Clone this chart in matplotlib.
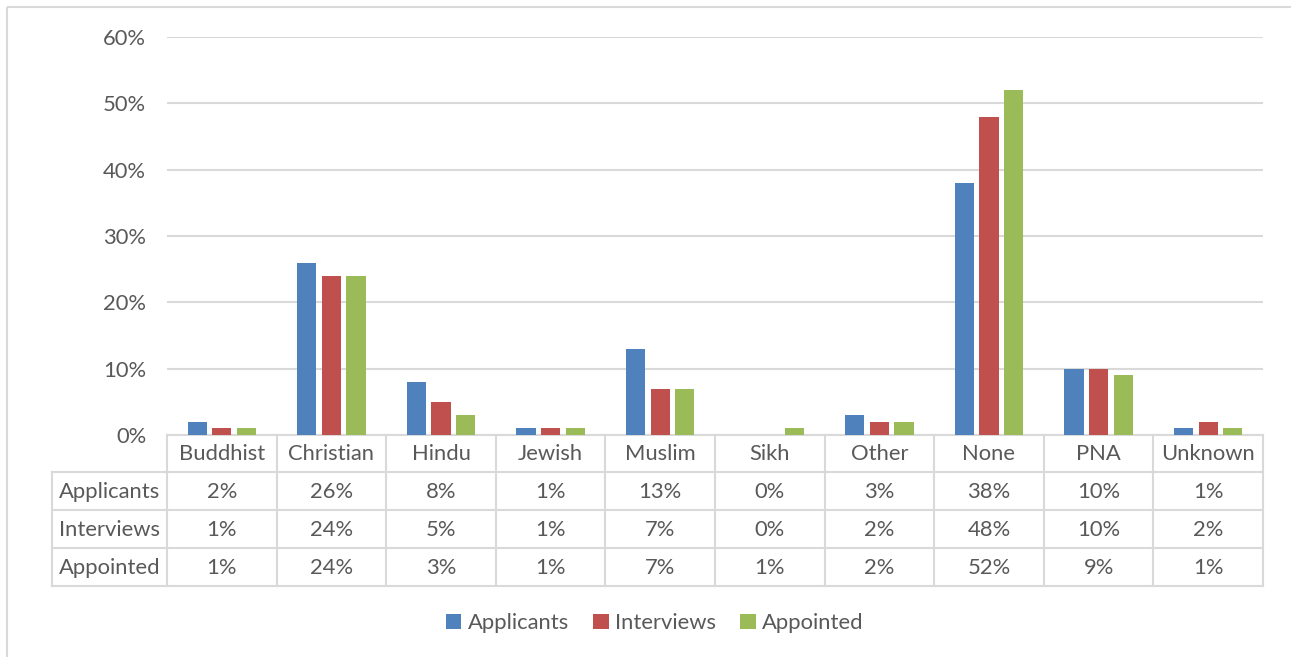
import matplotlib
matplotlib.use("Agg")
import matplotlib.pyplot as plt
from matplotlib.patches import Patch, Rectangle

categories = ["Buddhist", "Christian", "Hindu", "Jewish", "Muslim", "Sikh", "Other", "None", "PNA", "Unknown"]
applicants = [2, 26, 8, 1, 13, 0, 3, 38, 10, 1]
interviews = [1, 24, 5, 1, 7, 0, 2, 48, 10, 2]
appointed = [1, 24, 3, 1, 7, 1, 2, 52, 9, 1]
series_names = ["Applicants", "Interviews", "Appointed"]
series_values = [applicants, interviews, appointed]
colors = ["#4F81BD", "#C0504D", "#9BBB59"]
y_ticks = [0, 10, 20, 30, 40, 50, 60]

W, H = 1291, 657
TXT = "#595959"
GRID = "#D9D9D9"
FONT = ["Lato", "DejaVu Sans"]
plt.rcParams["font.family"] = FONT

fig = plt.figure(figsize=(W / 100, H / 100), dpi=100)

# overlay in pixel coordinates
ov = fig.add_axes([0, 0, 1, 1])
ov.set_xlim(0, W)
ov.set_ylim(H, 0)
ov.axis("off")

# chart border
ov.add_patch(Rectangle((7, 7), W + 20, H + 20, fill=False, edgecolor=GRID, lw=1.5))

fs = 15.8

# plot area
px_l, px_r, px_t, px_b = 167, 1263, 37, 435
ax = fig.add_axes([px_l / W, 1 - px_b / H, (px_r - px_l) / W, (px_b - px_t) / H])
n = len(categories)
ax.set_xlim(-0.5, n - 0.5)
ax.set_ylim(0, 60)
bw = 0.175
offs = [-0.225, 0.0, 0.225]
for vals, c, o, name in zip(series_values, colors, offs, series_names):
    ax.bar([i + o for i in range(n)], vals, width=bw, color=c, label=name, zorder=3)
ax.set_yticks(y_ticks)
ax.set_yticklabels([f"{t}%" for t in y_ticks], color=TXT, fontsize=fs)
ax.tick_params(axis="y", length=0, pad=15)
ax.set_xticks([])
ax.grid(axis="y", color=GRID, lw=1.5, zorder=0)
for s in ax.spines.values():
    s.set_visible(False)
ax.patch.set_alpha(0)

# data table
col_w = (px_r - px_l) / n
row_edges = [435, 472, 510, 548, 586]
lab_l = 52
lw = 1.5
ov.plot([px_l, px_r], [row_edges[0], row_edges[0]], color=GRID, lw=lw)
for y in row_edges[1:]:
    ov.plot([lab_l, px_r], [y, y], color=GRID, lw=lw)
for i in range(n + 1):
    x = px_l + i * col_w
    ov.plot([x, x], [row_edges[0], row_edges[-1]], color=GRID, lw=lw)
ov.plot([lab_l, lab_l], [row_edges[1], row_edges[-1]], color=GRID, lw=lw)

for i, cat in enumerate(categories):
    cx = px_l + (i + 0.5) * col_w
    ov.text(cx, (row_edges[0] + row_edges[1]) / 2 + 1, cat, ha="center", va="center", color=TXT, fontsize=fs)
for r, (name, vals) in enumerate(zip(series_names, series_values)):
    cy = (row_edges[r + 1] + row_edges[r + 2]) / 2 + 1
    ov.text((lab_l + px_l) / 2, cy, name, ha="center", va="center", color=TXT, fontsize=fs)
    for i, v in enumerate(vals):
        cx = px_l + (i + 0.5) * col_w
        ov.text(cx, cy, f"{v}%", ha="center", va="center", color=TXT, fontsize=fs)

# legend
handles = [Patch(facecolor=c, edgecolor="none", label=nm) for c, nm in zip(colors, series_names)]
fig.legend(handles=handles, loc="center", bbox_to_anchor=(655 / W, 1 - 623 / H), ncol=3,
           frameon=False, fontsize=fs, handlelength=0.7, handleheight=0.7,
           handletextpad=0.3, columnspacing=1.1, labelcolor=TXT)

fig.savefig("out.png", dpi=100)
